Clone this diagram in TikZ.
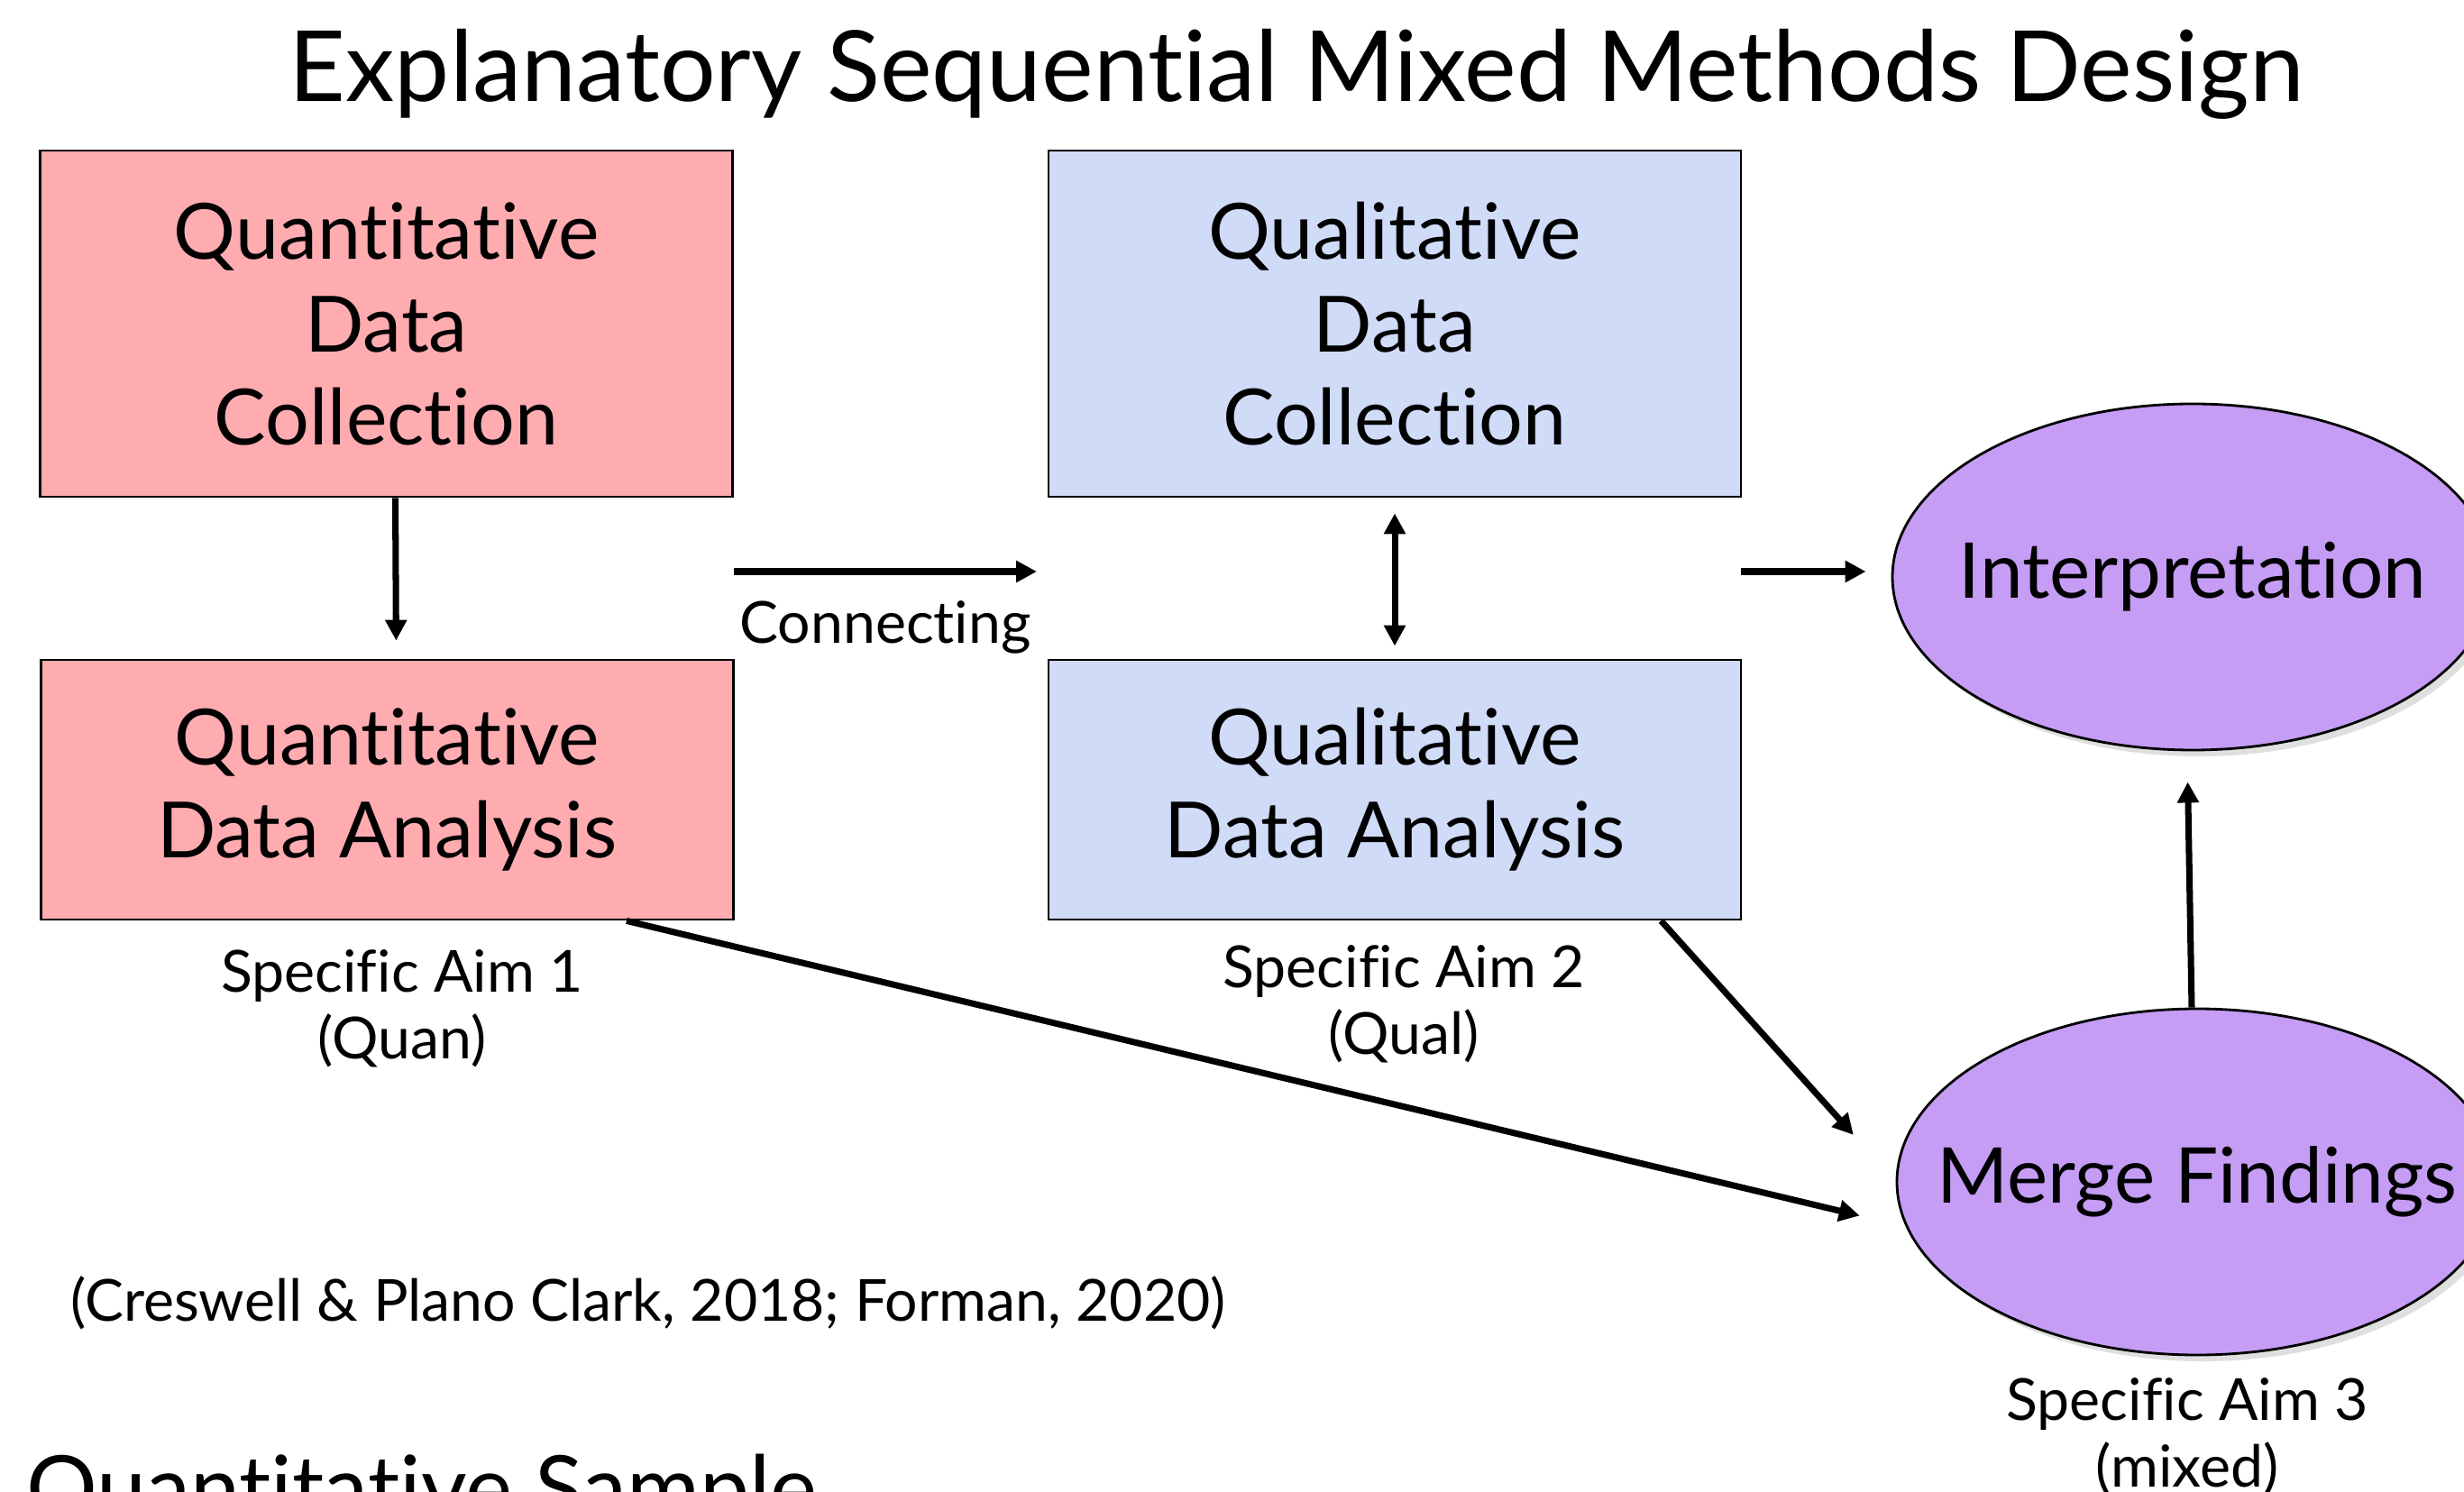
\documentclass[tikz,border=0pt]{standalone}
\usepackage{fontspec}
\setmainfont{Lato}[Ligatures=NoCommon]
\setsansfont{Lato}[Ligatures=NoCommon]
\usetikzlibrary{arrows.meta,positioning,shapes.geometric,shadows}

\begin{document}
\begin{tikzpicture}[>={Triangle[length=0.23cm,width=0.23cm]}, font=\sffamily,
  quanbox/.style={draw=black, line width=0.8pt, fill=quanpink, minimum width=7.68cm, align=center, font=\fontsize{24.5}{29.3}\selectfont},
  qualbox/.style={quanbox, fill=qualblue},
  mixoval/.style={ellipse, draw=black, line width=0.8pt, fill=mixpurple, minimum width=6.66cm, minimum height=3.84cm, inner sep=0pt, drop shadow={shadow xshift=2pt, shadow yshift=-2pt, opacity=0.25}},
  arr/.style={->, line width=2pt},
  aimlbl/.style={align=center, font=\fontsize{18.3}{21}\selectfont}]
\definecolor{quanpink}{HTML}{FFACB1}
\definecolor{qualblue}{HTML}{CFDBF7}
\definecolor{mixpurple}{HTML}{C59DF5}
\clip (0,0) rectangle (27.33,-16.55);
\useasboundingbox (0,0) rectangle (27.33,-16.55);
% title
\node[anchor=base, font=\fontsize{31}{31}\selectfont] (title) at (14.38,-1.13) {Explanatory Sequential Mixed Methods Design};
% boxes
\node[quanbox, minimum height=3.84cm] (qncoll) at (4.285,-3.59) {Quantitative\\Data\\Collection};
\node[quanbox, minimum height=2.88cm] (qnanal) at (4.295,-8.76) {Quantitative\\Data Analysis};
\node[qualbox, minimum height=3.84cm] (qlcoll) at (15.47,-3.59) {Qualitative\\Data\\Collection};
\node[qualbox, minimum height=2.88cm] (qlanal) at (15.47,-8.76) {Qualitative\\Data Analysis};
% ovals
\node[mixoval, label={[font=\fontsize{24.3}{24.3}\selectfont]center:Interpretation}] (interp) at (24.32,-6.40) {};
\node[mixoval, label={[font=\fontsize{24.3}{24.3}\selectfont]center:Merge Findings}] (merge) at (24.37,-13.11) {};
% labels
\node[aimlbl] (aim1) at (4.46,-11.19) {Specific Aim 1\\(Quan)};
\node[aimlbl] (aim2) at (15.57,-11.14) {Specific Aim 2\\(Qual)};
\node[aimlbl] (aim3) at (24.26,-15.94) {Specific Aim 3\\(mixed)};
\node[anchor=west, font=\fontsize{18.3}{21}\selectfont] (cite) at (0.66,-14.45) {(Creswell \& Plano Clark, 2018; Forman, 2020)};
\node[anchor=base west, font=\fontsize{28}{28}\selectfont] (sample) at (0.17,-16.85) {Quantitative Sample};
% connectors
\coordinate (c1) at (8.14,-6.34);
\coordinate (c2) at (11.50,-6.34);
\coordinate (d1) at (19.31,-6.34);
\draw[arr, shorten >=0.2cm] ([xshift=0.1cm]qncoll.south) -- ([xshift=0.1cm]qnanal.north);
\draw[arr] (c1) -- (c2) node[midway, below=0.17cm, font=\fontsize{18.3}{21}\selectfont] (conn) {Connecting};
\draw[<->, line width=2pt, shorten <=0.17cm, shorten >=0.14cm] (qlcoll.south) -- (qlanal.north);
\draw[arr, shorten >=0.28cm] (d1) -- (d1 -| interp.west);
\draw[arr, shorten >=0.34cm] ([xshift=-0.06cm]merge.north) -- ([xshift=-0.06cm]interp.south);
\draw[arr, shorten >=0.7cm] ([xshift=-0.9cm]qlanal.south east) -- (merge.west);
\draw[arr, shorten >=0.41cm] ([xshift=-1.2cm]qnanal.south east) -- ([yshift=-0.47cm]merge.west);
\end{tikzpicture}
\end{document}
